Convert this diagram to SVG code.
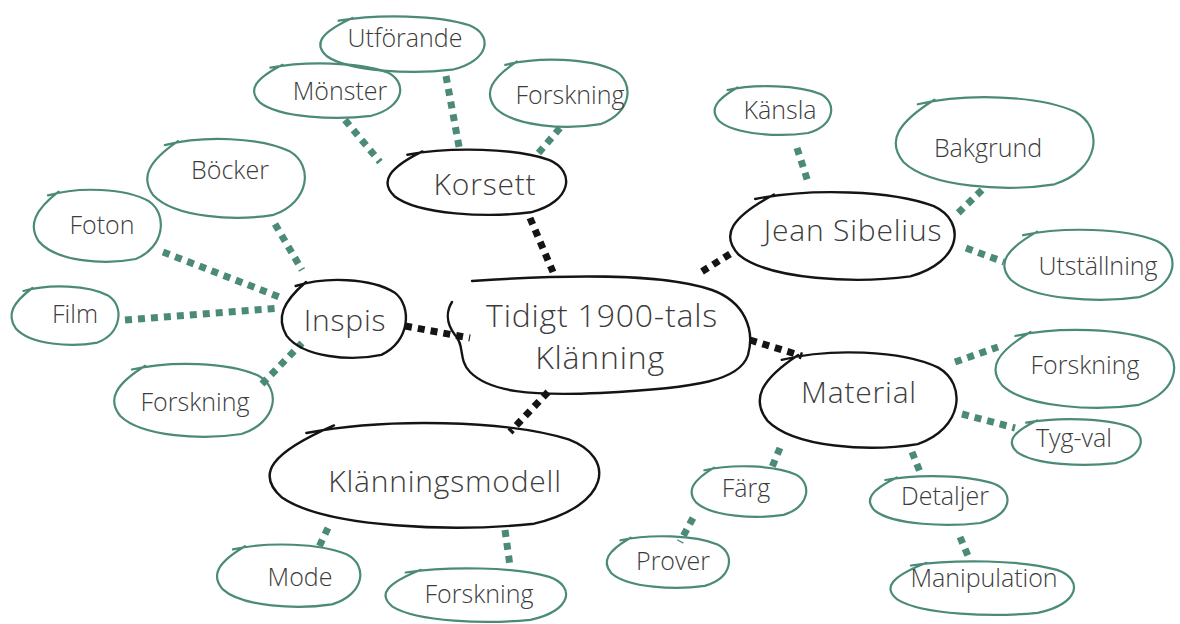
<svg xmlns="http://www.w3.org/2000/svg" width="1180" height="624" viewBox="0 0 1180 624">
<style>
.bg{fill:#ffffff}
.leaf path{fill:none;stroke:#4b8a78;stroke-width:2.2;stroke-linecap:round;stroke-linejoin:round}
.main path{fill:none;stroke:#141414;stroke-width:2.4;stroke-linecap:round;stroke-linejoin:round}
text{font-family:"Open Sans","Liberation Sans",sans-serif;font-weight:300;fill:#3c3c3c;text-anchor:middle;dominant-baseline:middle}
.leaf text{font-size:25px}
.main text{font-size:30px;letter-spacing:0.8px}
.center text{font-size:32px;letter-spacing:0.8px}
.ct{fill:none;stroke:#4b8a78;stroke-width:7;stroke-dasharray:7 6}
.cb{fill:none;stroke:#141414;stroke-width:7;stroke-dasharray:7 6}
</style>
<rect class="bg" x="0" y="0" width="1180" height="624"/>
<g id="connectors">
<path class="cb" d="M530 218 L553 272"/>
<path class="cb" d="M405 326 L470 338"/>
<path class="cb" d="M730 254 L698 274"/>
<path class="cb" d="M750 340 L802 356"/>
<path class="cb" d="M548 392 L510 432"/>
<path class="ct" d="M345 120 L380 162"/>
<path class="ct" d="M446 76 L460 152"/>
<path class="ct" d="M560 128 L536 156"/>
<path class="ct" d="M275 224 L302 270"/>
<path class="ct" d="M163 252 L282 298"/>
<path class="ct" d="M125 320 L280 308"/>
<path class="ct" d="M262 384 L302 343"/>
<path class="ct" d="M797 148 L808 182"/>
<path class="ct" d="M982 190 L955 216"/>
<path class="ct" d="M966 248 L1004 262"/>
<path class="ct" d="M955 362 L998 347"/>
<path class="ct" d="M962 414 L1015 428"/>
<path class="ct" d="M780 448 L770 472"/>
<path class="ct" d="M912 452 L920 472"/>
<path class="ct" d="M693 518 L680 542"/>
<path class="ct" d="M960 537 L968 556"/>
<path class="ct" d="M328 528 L318 549"/>
<path class="ct" d="M505 530 L510 566"/>
</g>
<g id="center" class="main center">
<path d="M472 281 C560 275,660 272,712 290 C745 302,755 330,748 355 C740 380,700 388,600 393 C530 396,490 392,470 372 C458 360,465 345,455 335 C445 322,447 310,452 302"/>
<text x="602" y="318">Tidigt 1900-tals</text>
<text x="600" y="360">Klänning</text>
</g>
<g id="korsett" class="main">
<path d="M407.4 154.7 C450.5 146.7,515.9 148,549.6 160.1 C575.7 171.5,572 201.6,530.9 212.3 C487.9 217.7,418.7 215,394.4 196.2 C379.4 181.5,388.7 168.1,422.4 151.4"/>
<text x="485" y="187">Korsett</text>
</g>
<g id="utforande" class="leaf">
<path d="M338.6 20.7 C378.2 13.9,438.4 15,469.4 25.3 C493.4 35,490 60.6,452.2 69.7 C412.6 74.3,349 72,326.6 56 C312.8 43.5,321.4 32.1,352.4 17.9"/>
<text x="405" y="40">Utförande</text>
</g>
<g id="monster" class="leaf">
<path d="M270.4 67.6 C305.6 60.9,359.1 62,386.6 72.1 C408.1 81.6,405 106.8,371.3 115.8 C336.2 120.2,279.5 118,259.7 102.3 C247.4 90,255.1 78.8,282.6 64.8"/>
<text x="340" y="93">Mönster</text>
</g>
<g id="forskning-korsett" class="leaf">
<path d="M505.3 64.9 C538.4 56.6,588.8 58,614.7 70.4 C634.9 82.2,632 113.2,600.3 124.2 C567.2 129.8,513.9 127,495.2 107.7 C483.7 92.5,490.9 78.7,516.8 61.5"/>
<text x="570" y="97">Forskning</text>
</g>
<g id="inspis" class="main">
<path d="M295.6 286 C325.5 276.4,371 278,394.4 292.4 C412.6 306,410 342,381.4 354.8 C351.5 361.2,303.4 358,286.5 335.6 C276.1 318,282.6 302,306 282"/>
<text x="345" y="323">Inspis</text>
</g>
<g id="bocker" class="leaf">
<path d="M164.8 145.1 C202.8 135.4,260.5 137,290.2 151.6 C313.3 165.4,310 201.8,273.7 214.8 C235.8 221.2,174.7 218,153.3 195.3 C140.1 177.5,148.3 161.3,178 141.1"/>
<text x="230" y="172">Böcker</text>
</g>
<g id="foton" class="leaf">
<path d="M48 195.4 C78.6 186.5,125.1 188,149 201.3 C167.7 213.9,165 247.2,135.7 259 C105.2 265,55.9 262,38.7 241.3 C28 225,34.7 210.2,58.6 191.7"/>
<text x="102" y="227">Foton</text>
</g>
<g id="film" class="leaf">
<path d="M23.4 291 C49.2 283.8,88.4 285,108.6 295.8 C124.2 306,122 333,97.4 342.6 C71.6 347.4,30.2 345,15.6 328.2 C6.6 315,12.2 303,32.4 288"/>
<text x="75" y="316">Film</text>
</g>
<g id="forskning-inspis" class="leaf">
<path d="M131.9 369.5 C170.1 360.5,228.2 362,258.1 375.5 C281.3 388.3,278 422,241.5 434 C203.3 440,141.9 437,120.3 416 C107 399.5,115.3 384.5,145.2 365.8"/>
<text x="195" y="404">Forskning</text>
</g>
<g id="sibelius" class="main">
<path d="M755.2 199 C809.3 188.2,891.5 190,933.8 206.2 C966.7 221.5,962 262,910.3 276.4 C856.3 283.6,769.3 280,738.8 254.8 C720 235,731.7 217,774 194.5"/>
<text x="853" y="233">Jean  Sibelius</text>
</g>
<g id="kansla" class="leaf">
<path d="M727.6 90 C755.7 84,798.4 85,820.4 94 C837.4 102.5,835 125,808.2 133 C780.1 137,735 135,719.1 121 C709.3 110,715.4 100,737.4 87.5"/>
<text x="780" y="112">Känsla</text>
</g>
<g id="bakgrund" class="leaf">
<path d="M917.8 104.3 C965.5 93.1,1037.9 95,1075.2 111.7 C1104.1 127.6,1100 169.4,1054.5 184.3 C1006.9 191.7,930.3 188,903.4 162 C886.8 141.5,897.1 122.9,934.4 99.7"/>
<text x="988" y="150">Bakgrund</text>
</g>
<g id="utstallning" class="leaf">
<path d="M1023.1 235.2 C1063.6 226.6,1125.2 228,1156.9 241 C1181.5 253.2,1178 285.6,1139.3 297.1 C1098.8 302.9,1033.7 300,1010.8 279.8 C996.7 264,1005.5 249.6,1037.2 231.6"/>
<text x="1098" y="268">Utställning</text>
</g>
<g id="material" class="main">
<path d="M781.7 359.8 C829.1 348,901.2 350,938.3 367.6 C967.1 384.3,963 428.4,917.7 444.1 C870.3 451.9,794.1 448,767.3 420.6 C750.8 399,761.1 379.4,798.2 354.9"/>
<text x="859" y="395">Material</text>
</g>
<g id="forskning-material" class="leaf">
<path d="M1015.4 336 C1058.5 326.4,1123.9 328,1157.6 342.4 C1183.7 356,1180 392,1138.9 404.8 C1095.9 411.2,1026.7 408,1002.4 385.6 C987.4 368,996.7 352,1030.4 332"/>
<text x="1085" y="367">Forskning</text>
</g>
<g id="tygval" class="leaf">
<path d="M1026.2 422.7 C1057.3 417.1,1104.5 418,1128.8 426.5 C1147.7 434.5,1145 455.6,1115.3 463.1 C1084.3 466.9,1034.3 465,1016.8 451.8 C1006 441.5,1012.7 432.1,1037 420.4"/>
<text x="1074" y="440">Tyg-val</text>
</g>
<g id="farg" class="leaf">
<path d="M704.4 470.2 C732 464,774 465,795.6 474.4 C812.4 483.2,810 506.6,783.6 514.9 C756 519.1,711.6 517,696 502.4 C686.4 491,692.4 480.6,714 467.6"/>
<text x="746" y="490">Färg</text>
</g>
<g id="detaljer" class="leaf">
<path d="M885.3 480 C918.4 474,968.8 475,994.7 484 C1014.9 492.5,1012 515,980.3 523 C947.2 527,893.9 525,875.2 511 C863.7 500,870.9 490,896.8 477.5"/>
<text x="945" y="498">Detaljer</text>
</g>
<g id="prover" class="leaf">
<path d="M620.4 540.3 C649.8 533.9,694.6 535,717.6 544.5 C735.6 553.6,733 577.4,704.8 585.9 C675.4 590.1,628 588,611.4 573.2 C601.2 561.5,607.6 550.9,630.6 537.7"/>
<text x="673" y="563">Prover</text>
</g>
<g id="manipulation" class="leaf">
<path d="M911 565.5 C955.2 558.9,1022.4 560,1057 569.9 C1083.8 579.3,1080 604,1037.8 612.8 C993.6 617.2,922.6 615,897.6 599.6 C882.2 587.5,891.8 576.5,926.4 562.8"/>
<text x="984" y="580">Manipulation</text>
</g>
<g id="klanningsmodell" class="main">
<path d="M306.4 433 C385.8 417.8,506.5 420,568.6 439.4 C616.9 457.8,610 505.5,534.1 523.7 C454.8 532.3,327.1 528,282.3 497.8 C254.7 474,271.9 452.4,334 425.4"/>
<text x="445" y="484">Klänningsmodell</text>
</g>
<g id="mode" class="leaf">
<path d="M233 549.4 C267.5 541.7,320 543,347 554.5 C368 565.4,365 594.2,332 604.4 C297.5 609.6,242 607,222.5 589.1 C210.5 575,218 562.2,245 546.2"/>
<text x="300" y="579">Mode</text>
</g>
<g id="forskning-modell" class="leaf">
<path d="M405.7 572.5 C449.2 565.9,515.3 567,549.3 576.9 C575.8 586.3,572 611,530.4 619.8 C487 624.2,417 622,392.5 606.6 C377.3 594.5,386.8 583.5,420.8 569.8"/>
<text x="479" y="596">Forskning</text>
</g>
</svg>
